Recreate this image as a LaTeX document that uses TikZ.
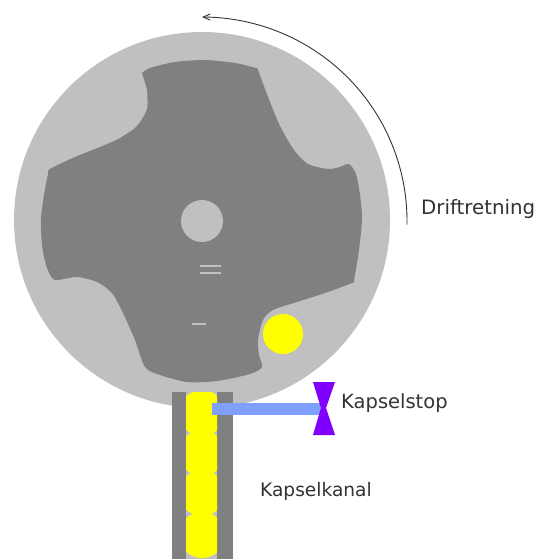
\documentclass[tikz,border=0pt]{standalone}
\usepackage{fontspec}
\setmainfont{DejaVu Sans}
\usetikzlibrary{arrows.meta}
\definecolor{lightg}{RGB}{192,192,192}
\definecolor{darkg}{RGB}{128,128,128}
\definecolor{capsule}{RGB}{255,255,0}
\definecolor{stopbar}{RGB}{128,160,255}
\definecolor{stoptip}{RGB}{128,0,255}
\tikzset{
  disc/.style={circle,fill=lightg,draw=none,minimum size=376pt,inner sep=0pt},
  hub/.style={circle,fill=lightg,draw=none,minimum size=42pt,inner sep=0pt},
  ball/.style={circle,fill=capsule,draw=none,minimum size=40pt,inner sep=0pt},
  lab/.style={text=black!80,inner sep=0pt,anchor=base west},
  mark line/.style={draw=lightg,line width=1.3pt},
}
\begin{document}
\begin{tikzpicture}[x=1pt,y=-1pt]
\useasboundingbox (0,0) rectangle (536,559);
\fill[white] (0,0) rectangle (536,559);
\node[disc] (disc) at (202,220) {};
\fill[darkg] plot[smooth,tension=0.45] coordinates {
 (142,73) (150,68) (175,62) (205,60) (235,63) (256,68) (258,70)
 (268,97) (280,126) (294,150) (308,164) (328,169) (340,167) (349,164) (356,174)
 (360,195) (362,219) (359,250) (354,280) (352,283)
 (325,293) (297,302) (273,310) (263,320) (258,340) (259,355) (262,367)
 (250,374) (217,381) (187,382) (160,375) (145,367)
 (135,340) (123,313) (112,293) (97,282) (77,277) (58,280) (52,278)
 (46,265) (42,245) (41,219) (44,195) (48,174) (50,169)
 (75,157) (100,147) (120,138) (137,126) (147,109) (147,89)
} -- cycle;
\node[hub] (hub) at (202,221) {};
\draw[mark line] (200,266) -- (221,266);
\draw[mark line] (200,273) -- (221,273);
\draw[mark line] (192,324) -- (206,324);
\node[ball] (ball) at (283,334) {};
% channel
\fill[lightg] (172,392) rectangle (233,559);
\fill[darkg] (172,392) rectangle (186,559);
\fill[darkg] (217,392) rectangle (233,559);
\begin{scope}
\clip (186,392) rectangle (217,559);
\foreach \n/\y in {c1/413,c2/453,c3/493,c4/535}
  \node[circle,fill=capsule,minimum size=46pt,inner sep=0pt] (\n) at (202,\y) {};
\end{scope}
% stop
\node[fill=stopbar,minimum width=109pt,minimum height=12.5pt,inner sep=0pt,anchor=west] (bar) at (212,409) {};
\fill[stoptip] (313,382) -- (335,382) -- (326,408) -- (335,435) -- (313,435) -- (321,408) -- cycle;
\coordinate (stop) at (323,408);
% arrow
\draw[line width=0.9pt,black!80,-{Straight Barb[length=7pt,width=6pt]}]
  plot[domain=-1:90,samples=50,smooth] ({202+205*cos(\x)},{221-204*sin(\x)});
\node[lab,font=\fontsize{19.8pt}{21pt}\selectfont] (drift) at (421,214) {Driftretning};
\node[lab,font=\fontsize{19.5pt}{21pt}\selectfont] (stoplab) at (341,408) {Kapselstop};
\node[lab,font=\fontsize{18.6pt}{21pt}\selectfont] (kanal) at (260,496) {Kapselkanal};
\end{tikzpicture}
\end{document}
